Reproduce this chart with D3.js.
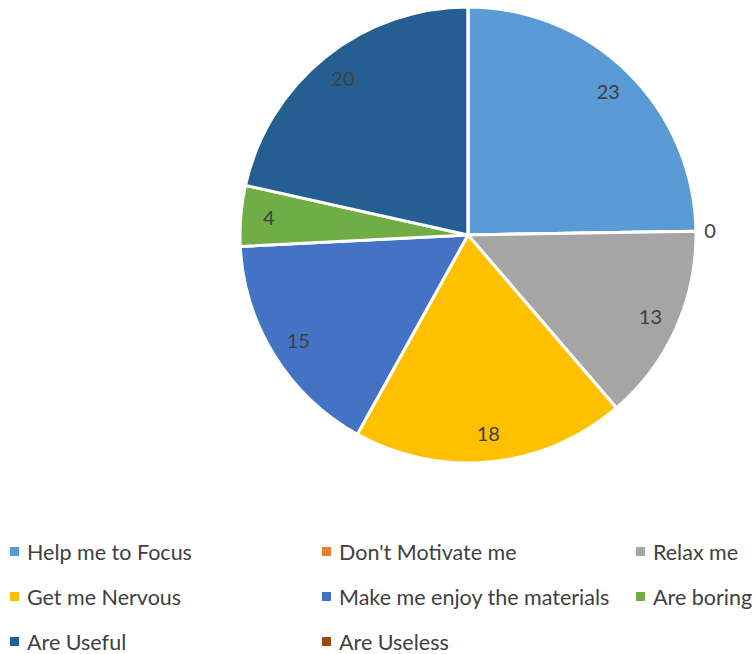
<!DOCTYPE html>
<html>
<head>
<meta charset="utf-8">
<script src="https://cdn.jsdelivr.net/npm/d3@7"></script>
<style>
  body { margin: 0; background: #fff; }
  text { font-family: Lato, "Open Sans", sans-serif; fill: #404040; }
</style>
</head>
<body>
<svg id="chart" width="756" height="654"></svg>
<script>
/*Chart data*/
var categories = ["Help me to Focus", "Don't Motivate me", "Relax me", "Get me Nervous",
                  "Make me enjoy the materials", "Are boring", "Are Useful", "Are Useless"];
var values = [23, 0, 13, 18, 15, 4, 20, 0];
var colors = ["#5b9bd5", "#ed7d31", "#a5a5a5", "#ffc000", "#4472c4", "#70ad47", "#255e91", "#9e480e"];

var svg = d3.select("#chart");
var cx = 468, cy = 235, radius = 228;

var pie = d3.pie().sort(null).value(function (d) { return d; });
var arcs = pie(values);

var arc = d3.arc().innerRadius(0).outerRadius(radius);
var labelArc = d3.arc().innerRadius(200).outerRadius(200);
var zeroArc = d3.arc().innerRadius(242).outerRadius(242);

var g = svg.append("g").attr("transform", "translate(" + cx + "," + cy + ")");

g.selectAll("path")
  .data(arcs)
  .enter().append("path")
  .attr("d", arc)
  .attr("fill", function (d, i) { return colors[i]; })
  .attr("stroke", "#fff")
  .attr("stroke-width", 3)
  .attr("stroke-linejoin", "round");

// data labels; zero-size slices get theirs outside the pie
// (the trailing zero ends at the top and Excel hides it under the first label)
g.selectAll("text.lbl")
  .data(arcs.filter(function (d, i) { return i < values.length - 1 || d.value > 0; }))
  .enter().append("text")
  .attr("class", "lbl")
  .attr("transform", function (d) {
    var c = d.value === 0 ? zeroArc.centroid(d) : labelArc.centroid(d);
    return "translate(" + c + ")";
  })
  .attr("text-anchor", "middle")
  .attr("dy", "0.35em")
  .style("font-size", "20px")
  .text(function (d) { return d.value; });

/*Legend*/
var colX = [10, 322, 636];
var rowY = [552, 597, 642];
var legend = svg.append("g");
categories.forEach(function (name, i) {
  var x = colX[i % 3], y = rowY[Math.floor(i / 3)];
  legend.append("rect")
    .attr("x", x).attr("y", y - 5)
    .attr("width", 9).attr("height", 9)
    .attr("fill", colors[i]);
  legend.append("text")
    .attr("x", x + 17).attr("y", y)
    .attr("dy", "0.35em")
    .style("font-size", "21.5px")
    .text(name);
});
</script>
</body>
</html>
